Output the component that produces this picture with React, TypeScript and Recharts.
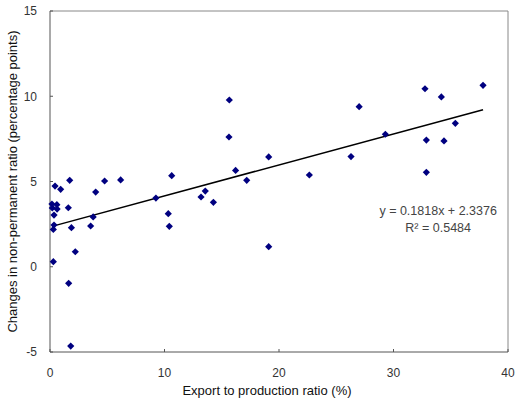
import React from "react";
import {
  ScatterChart,
  Scatter,
  XAxis,
  YAxis,
  ReferenceLine,
  ReferenceDot,
} from "recharts";

// export to production ratio (%)
const exportRatio = [
  0.44, 0.93, 1.72, 4.77, 6.17, 3.99, 0.17, 0.6, 0.2, 0.62, 1.6, 0.35, 3.77,
  0.35, 0.29, 1.87, 3.55, 0.29, 2.21, 1.63, 1.81, 9.25, 15.66, 15.63, 19.1,
  10.63, 16.21, 17.18, 22.65, 13.56, 13.19, 14.27, 10.33, 10.42, 19.1, 37.82,
  32.75, 34.18, 27.0, 35.4, 29.29, 32.87, 34.41, 26.29, 32.87,
];
// change in non-permanent ratio (percentage points)
const nonPermChange = [
  4.73, 4.54, 5.07, 5.03, 5.09, 4.38, 3.68, 3.64, 3.45, 3.38, 3.46, 3.03, 2.92,
  2.45, 2.19, 2.29, 2.39, 0.3, 0.88, -0.97, -4.65, 4.03, 9.78, 7.61, 6.44, 5.34,
  5.65, 5.07, 5.38, 4.44, 4.09, 3.78, 3.11, 2.37, 1.18, 10.64, 10.44, 9.96, 9.39,
  8.41, 7.77, 7.43, 7.38, 6.46, 5.54,
];
const xTicks = [0, 10, 20, 30, 40];
const yTicks = [-5, 0, 5, 10, 15];

const slope = 0.1818;
const intercept = 2.3376;
const rSquared = "0.5484";

const points = exportRatio.map((x, i) => ({ x, y: nonPermChange[i] }));
const xMin = Math.min(...exportRatio);
const xMax = Math.max(...exportRatio);
const trend = [
  { x: xMin, y: slope * xMin + intercept },
  { x: xMax, y: slope * xMax + intercept },
];

const FONT = "'Liberation Sans', Arial, sans-serif";

function Diamond(props: any) {
  const { cx, cy } = props;
  const r = 3.6;
  return (
    <polygon
      points={`${cx},${cy - r} ${cx + r},${cy} ${cx},${cy + r} ${cx - r},${cy}`}
      fill="#000080"
    />
  );
}

function YTitle(props: any) {
  const { viewBox } = props;
  const cx = 12;
  const cy = viewBox.y + viewBox.height / 2;
  return (
    <text
      x={cx}
      y={cy}
      transform={`rotate(-90, ${cx}, ${cy})`}
      textAnchor="middle"
      dominantBaseline="central"
      fontSize={13}
      fontFamily={FONT}
      fill="#111"
    >
      Changes in non-permanent ratio (percentage points)
    </text>
  );
}

function XTitle(props: any) {
  const { viewBox } = props;
  return (
    <text
      x={viewBox.x + viewBox.width / 2 - 12}
      y={395}
      textAnchor="middle"
      fontSize={13}
      fontFamily={FONT}
      fill="#111"
    >
      Export to production ratio (%)
    </text>
  );
}

function Equation(props: any) {
  const { viewBox } = props;
  const x = viewBox.x + (viewBox.width || 0) / 2;
  const y = viewBox.y + (viewBox.height || 0) / 2;
  return (
    <text textAnchor="middle" fontSize={12.5} fontFamily={FONT} fill="#444">
      <tspan x={x} y={y + 4}>
        {`y = ${slope}x + ${intercept}`}
      </tspan>
      <tspan x={x} y={y + 21}>
        R² = {rSquared}
      </tspan>
    </text>
  );
}

export default function App() {
  return (
    <div style={{ position: "absolute", left: 0, top: 0, background: "#fff" }}>
      <ScatterChart
        width={520}
        height={406}
        margin={{ top: 11, right: 12, bottom: 0, left: 0 }}
      >
        <XAxis
          type="number"
          dataKey="x"
          domain={[0, 40]}
          ticks={xTicks}
          height={54}
          tickSize={-3}
          tickMargin={19}
          axisLine={{ stroke: "#555" }}
          tickLine={{ stroke: "#555" }}
          tick={{ fill: "#333", fontSize: 12, fontFamily: FONT }}
          label={{ content: XTitle }}
        />
        <YAxis
          type="number"
          dataKey="y"
          domain={[-5, 15]}
          ticks={yTicks}
          width={50}
          tickSize={-3}
          tickMargin={16}
          axisLine={{ stroke: "#555" }}
          tickLine={{ stroke: "#555" }}
          tick={{ fill: "#333", fontSize: 12, fontFamily: FONT }}
          label={{ content: YTitle }}
        />
        <ReferenceLine y={15} stroke="#888" />
        <ReferenceLine x={40} stroke="#888" />
        <ReferenceLine segment={trend} stroke="#000" strokeWidth={1.5} />
        <Scatter data={points} shape={Diamond} isAnimationActive={false} />
        <ReferenceDot
          x={33.9}
          y={3.27}
          r={0}
          fill="none"
          stroke="none"
          label={{ content: Equation }}
        />
      </ScatterChart>
    </div>
  );
}
